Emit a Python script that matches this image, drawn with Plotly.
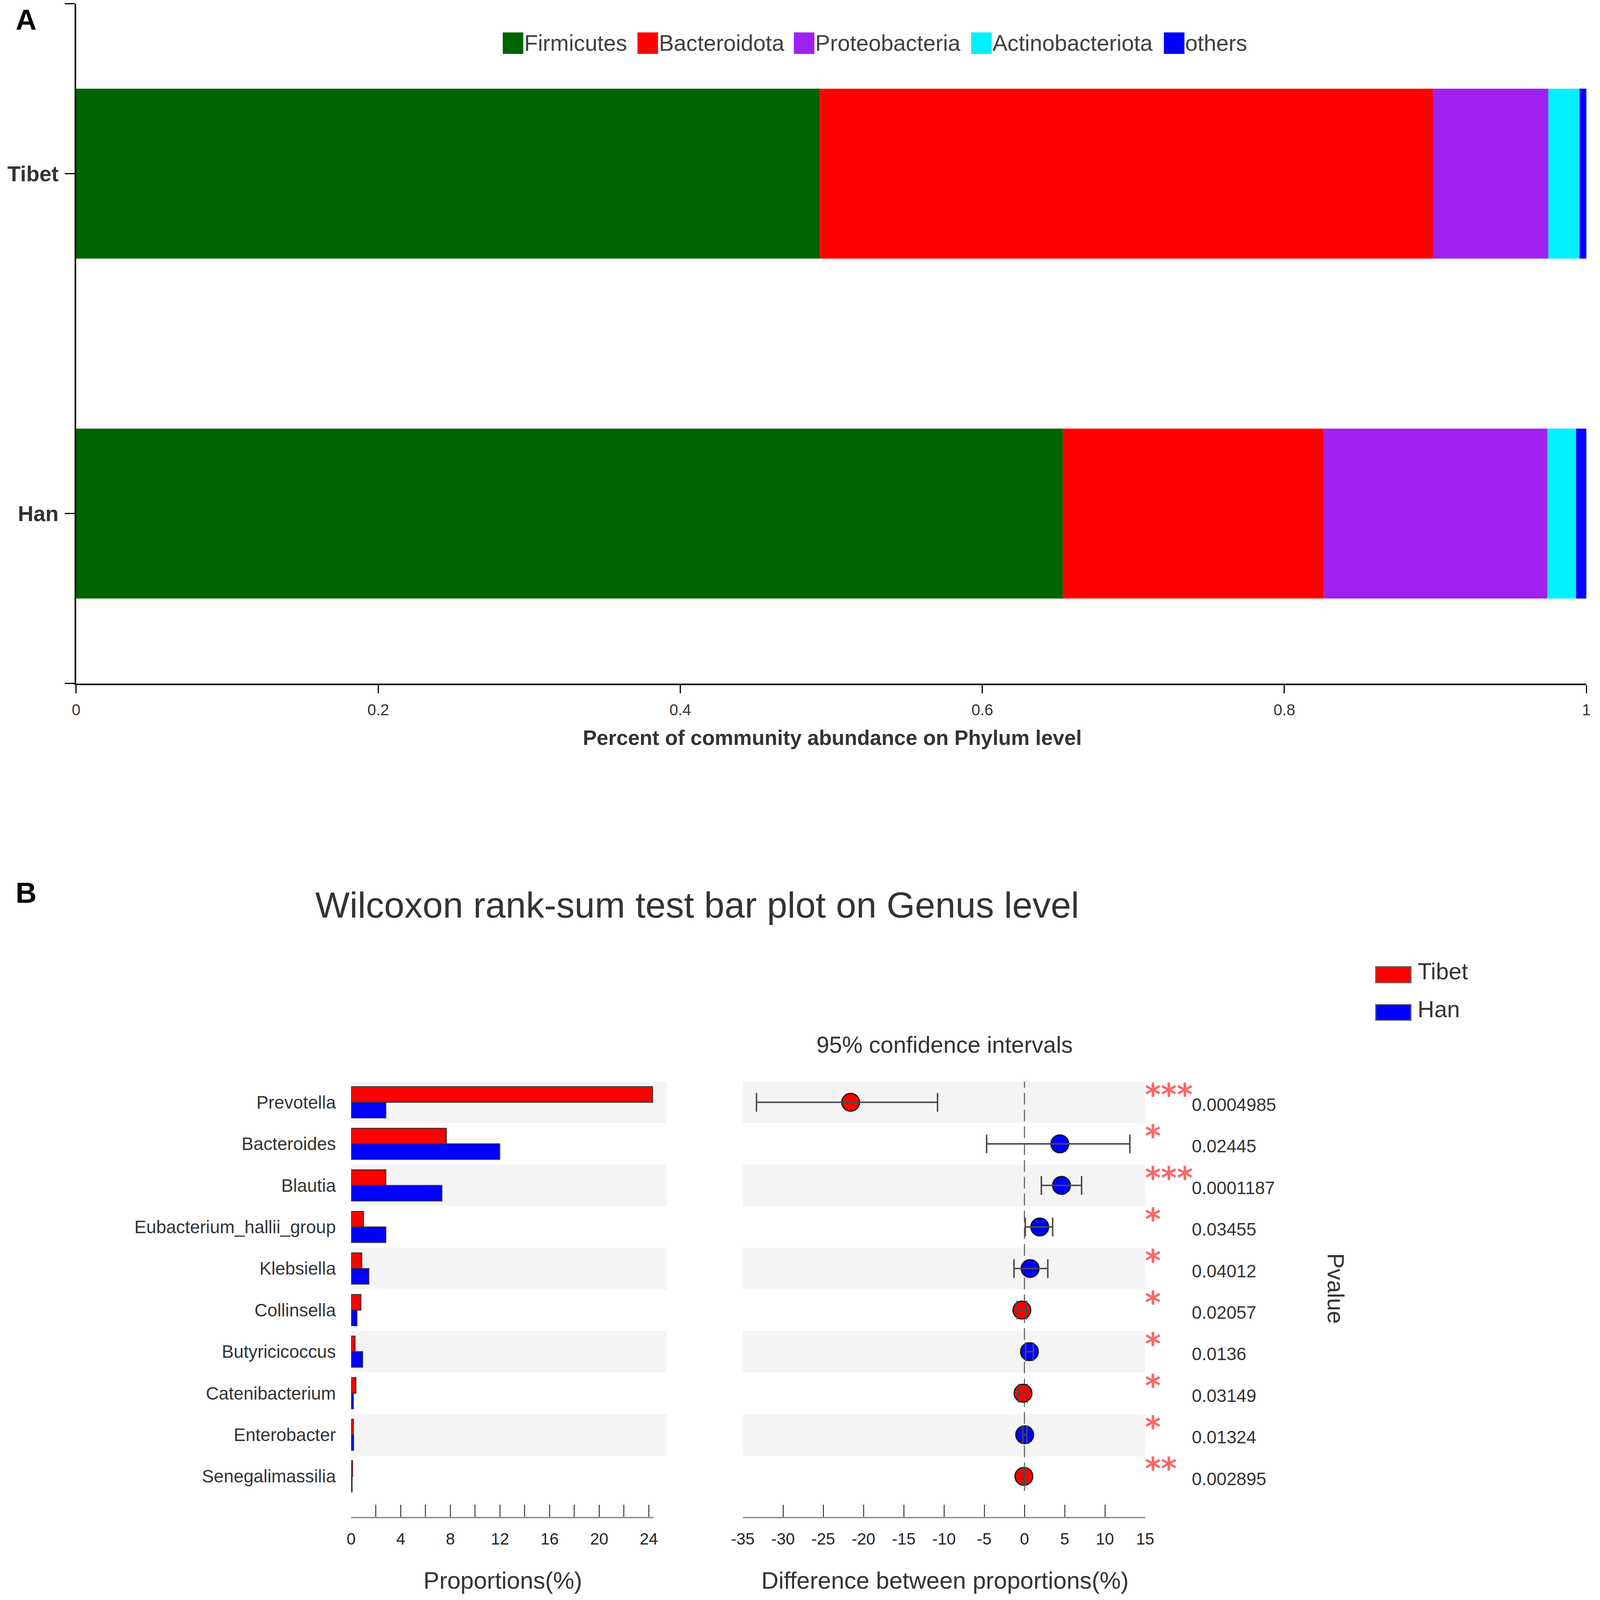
import numpy as np
import plotly.graph_objects as go

# positions below are read in reference pixels (4328 x 4181). The figure fills
# the browser window, so they are turned into paper fractions; the window
# renders about 5% larger than the reference, so pixel sizes are scaled by S.
W, H = 4328, 4181
K = 1.05
S = 1 / K
VH = H / K
PAD = 8
FONT = "Liberation Sans"
TEXT = "#333333"

# ---- panel A: phylum level composition ----
groups = ["Tibet", "Han"]
phyla = ["Firmicutes", "Bacteroidota", "Proteobacteria", "Actinobacteriota", "others"]
tibet_abund = [0.4926, 0.4057, 0.0765, 0.0206, 0.0046]
han_abund = [0.6533, 0.1730, 0.1478, 0.0191, 0.0068]
phylum_colors = ["#006400", "#FF0000", "#A020F0", "#00F0FF", "#0000FF"]
abund_ticks = [0, 0.2, 0.4, 0.6, 0.8, 1]

# ---- panel B: wilcoxon rank-sum test, genus level ----
genera = ["Prevotella", "Bacteroides", "Blautia", "Eubacterium_hallii_group", "Klebsiella",
          "Collinsella", "Butyricicoccus", "Catenibacterium", "Enterobacter", "Senegalimassilia"]
tibet_prop = [24.3, 7.68, 2.80, 1.00, 0.86, 0.79, 0.32, 0.39, 0.18, 0.12]
han_prop = [2.80, 11.98, 7.32, 2.80, 1.43, 0.47, 0.93, 0.18, 0.20, 0.08]
diff_prop = [-21.6, 4.4, 4.6, 1.9, 0.7, -0.32, 0.62, -0.18, 0.03, -0.07]
ci_low = [-33.3, -4.7, 2.1, 0.1, -1.3, -0.9, 0.15, -0.7, -0.2, -0.15]
ci_high = [-10.8, 13.1, 7.1, 3.5, 2.9, 0.25, 1.1, 0.35, 0.3, 0.05]
pvalues = [0.0004985, 0.02445, 0.0001187, 0.03455, 0.04012, 0.02057, 0.0136, 0.03149, 0.01324, 0.002895]
prop_ticks = [0, 2, 4, 6, 8, 10, 12, 14, 16, 18, 20, 22, 24]
diff_ticks = [-35, -30, -25, -20, -15, -10, -5, 0, 5, 10, 15]

# legend A square positions (reference px), layout only
legend_a_x = [1351, 1718, 2144, 2627, 3152]


def fx(x):
    return min(1.0, max(0.0, (x - 22) / 4285))


def fy(y):
    return 1 - (y / H * VH - PAD) / (VH - 2 * PAD)


def px(v):
    return v * S


def ipx(v):
    return int(round(v * S))


fig = go.Figure()

# stacked bars, stacking done through base
abund = np.array([tibet_abund, han_abund])
ypos_a = np.arange(len(groups))[::-1]
base = np.cumsum(abund, axis=1) - abund
for j, name in enumerate(phyla):
    fig.add_trace(go.Bar(
        x=abund[:, j], y=ypos_a, base=base[:, j], orientation="h", width=0.5,
        marker=dict(color=phylum_colors[j], line=dict(width=0)),
        name=name, showlegend=False, xaxis="x", yaxis="y",
    ))

n = len(genera)
ypos = np.arange(n)[::-1]
fig.add_trace(go.Bar(
    x=tibet_prop, y=ypos, orientation="h", width=0.375, offset=0,
    marker=dict(color="#FF0000", line=dict(color="#333333", width=px(2.5))),
    name="Tibet", showlegend=False, xaxis="x2", yaxis="y2",
))
fig.add_trace(go.Bar(
    x=han_prop, y=ypos, orientation="h", width=0.375, offset=-0.375,
    marker=dict(color="#0000FF", line=dict(color="#333333", width=px(2.5))),
    name="Han", showlegend=False, xaxis="x2", yaxis="y2",
))

dot_colors = ["#FF0000" if d < 0 else "#0000FF" for d in diff_prop]
err_plus = [h - d for h, d in zip(ci_high, diff_prop)]
err_minus = [d - lo for d, lo in zip(diff_prop, ci_low)]
fig.add_trace(go.Scatter(
    x=diff_prop, y=ypos, mode="markers",
    marker=dict(size=px(48), color=dot_colors, line=dict(color="#111111", width=px(3))),
    showlegend=False, xaxis="x3", yaxis="y3", cliponaxis=False,
))
# error bars on a second trace so they sit over the dots
fig.add_trace(go.Scatter(
    x=diff_prop, y=ypos, mode="markers", marker=dict(size=2, opacity=0),
    error_x=dict(type="data", symmetric=False, array=err_plus, arrayminus=err_minus,
                 color="#4a4a4a", thickness=px(4), width=ipx(25)),
    showlegend=False, xaxis="x3", yaxis="y3", cliponaxis=False,
))

shapes = []
for i in range(0, n, 2):
    for x0, x1, yref in [(938, 1797, "y2"), (2005, 3101, "y3")]:
        shapes.append(dict(type="rect", xref="paper", yref=yref, x0=fx(x0), x1=fx(x1),
                           y0=ypos[i] - 0.5, y1=ypos[i] + 0.5,
                           fillcolor="#F4F4F4", line=dict(width=0), layer="below"))
shapes.append(dict(type="line", xref="x3", yref="y3", x0=0, x1=0, y0=-0.35, y1=9.5,
                   line=dict(color="#666666", width=px(3), dash="30px,13px"), layer="below"))

annotations = []
# legend A
for x, name, col in zip(legend_a_x, phyla, phylum_colors):
    shapes.append(dict(type="rect", xref="paper", yref="paper", x0=fx(x), x1=fx(x + 56),
                       y0=fy(141), y1=fy(85), fillcolor=col, line=dict(width=0)))
    annotations.append(dict(text=name, xref="paper", yref="paper", x=fx(x + 56), y=fy(113),
                            xanchor="left", yanchor="middle", showarrow=False,
                            font=dict(family=FONT, size=px(60), color="#404040")))

# legend B
for (y0, y1), name, col in zip([(2526, 2568), (2625, 2666)], ["Tibet", "Han"], ["#FF0000", "#0000FF"]):
    shapes.append(dict(type="rect", xref="paper", yref="paper", x0=fx(3729), x1=fx(3825),
                       y0=fy(y1), y1=fy(y0), fillcolor=col, line=dict(color="#666666", width=px(3))))
    annotations.append(dict(text=name, xref="paper", yref="paper", x=fx(3841), y=fy((y0 + y1) / 2 - 8),
                            xanchor="left", yanchor="middle", showarrow=False,
                            font=dict(family=FONT, size=px(62), color=TEXT)))

# significance stars and p values
for p, yv in zip(pvalues, ypos):
    stars = "***" if p < 0.001 else "**" if p < 0.01 else "*" if p < 0.05 else ""
    annotations.append(dict(text=f"<b>{stars}</b>", xref="paper", yref="y3", x=fx(3098), y=yv,
                            xanchor="left", yanchor="middle", yshift=px(20), showarrow=False,
                            font=dict(family="DejaVu Sans", size=px(82), color="#FF6666")))
    annotations.append(dict(text=f"{p}", xref="paper", yref="y3", x=fx(3226), y=yv,
                            xanchor="left", yanchor="middle", yshift=px(-7), showarrow=False,
                            font=dict(family=FONT, size=px(48), color=TEXT)))

texts = [
    ("<b>A</b>", 16, 52, 78, "#000000", "left", 0),
    ("<b>B</b>", 16, 2333, 78, "#000000", "left", 0),
    ("<b>Percent of community abundance on Phylum level</b>", 2249, 1928, 56, TEXT, "center", 0),
    ("Wilcoxon rank-sum test bar plot on Genus level", 1881, 2365, 98, TEXT, "center", 0),
    ("95% confidence intervals", 2554, 2730, 62, TEXT, "center", 0),
    ("Proportions(%)", 1351, 4130, 64, TEXT, "center", 0),
    ("Difference between proportions(%)", 2556, 4130, 64, TEXT, "center", 0),
    ("Pvalue", 3620, 3367, 62, TEXT, "center", 90),
]
for t, x, y, size, col, anchor, ang in texts:
    annotations.append(dict(text=t, xref="paper", yref="paper", x=fx(x), y=fy(y),
                            xanchor=anchor, yanchor="middle", showarrow=False, textangle=ang,
                            font=dict(family=FONT, size=px(size), color=col)))

prop_text = [str(t) if t % 4 == 0 else "" for t in prop_ticks]
diff_text = [str(t) for t in diff_ticks]
b_axis = dict(ticks="inside", ticklen=ipx(33), tickwidth=px(2), tickcolor="#111111", showline=True,
              linecolor="#999999", linewidth=px(4), showgrid=False, zeroline=False,
              tickfont=dict(family=FONT, size=px(44), color="#222222"), ticklabelstandoff=ipx(18))
b_yaxis = dict(domain=[fy(3963), fy(2826)], range=[-0.97, 9.5], showgrid=False, zeroline=False,
               showline=False, ticks="")

fig.update_layout(
    autosize=True,
    margin=dict(l=0, r=0, t=0, b=0),
    paper_bgcolor="white", plot_bgcolor="rgba(0,0,0,0)",
    barmode="overlay", showlegend=False,
    font=dict(family=FONT, color=TEXT),
    xaxis=dict(domain=[fx(189), fx(4303)], range=[0, 1], anchor="y", tickvals=abund_ticks,
               ticks="outside", ticklen=ipx(22), tickwidth=px(3), tickcolor="#000000", showline=True,
               linecolor="#000000", linewidth=px(4), showgrid=False, zeroline=False,
               tickfont=dict(family=FONT, size=px(42), color=TEXT), ticklabelstandoff=ipx(8)),
    yaxis=dict(domain=[fy(1786), fy(10)], range=[-0.5, 1.5], anchor="x",
               tickvals=[-0.5] + list(ypos_a) + [1.5], ticktext=[""] + groups + [""],
               ticks="outside", ticklen=ipx(26), tickwidth=px(3), tickcolor="#000000", showline=True,
               linecolor="#000000", linewidth=px(4), showgrid=False, zeroline=False,
               tickfont=dict(family=FONT, size=px(58), color=TEXT, weight="bold"),
               ticklabelstandoff=ipx(5)),
    xaxis2=dict(domain=[fx(938), fx(1762.5)], range=[0, 24.4], anchor="y2",
                tickvals=prop_ticks, ticktext=prop_text, **b_axis),
    yaxis2=dict(anchor="x2", tickvals=list(ypos), ticktext=genera, showticklabels=True,
                tickfont=dict(family=FONT, size=px(48), color=TEXT), ticklabelstandoff=ipx(40),
                **b_yaxis),
    xaxis3=dict(domain=[fx(2005), fx(3101)], range=[-35, 15], anchor="y3",
                tickvals=diff_ticks, ticktext=diff_text, **b_axis),
    yaxis3=dict(anchor="x3", showticklabels=False, **b_yaxis),
    shapes=shapes,
    annotations=annotations,
)

fig.write_html("out.html", default_width="calc(100vw - 16px)", default_height="calc(100vh - 16px)")
